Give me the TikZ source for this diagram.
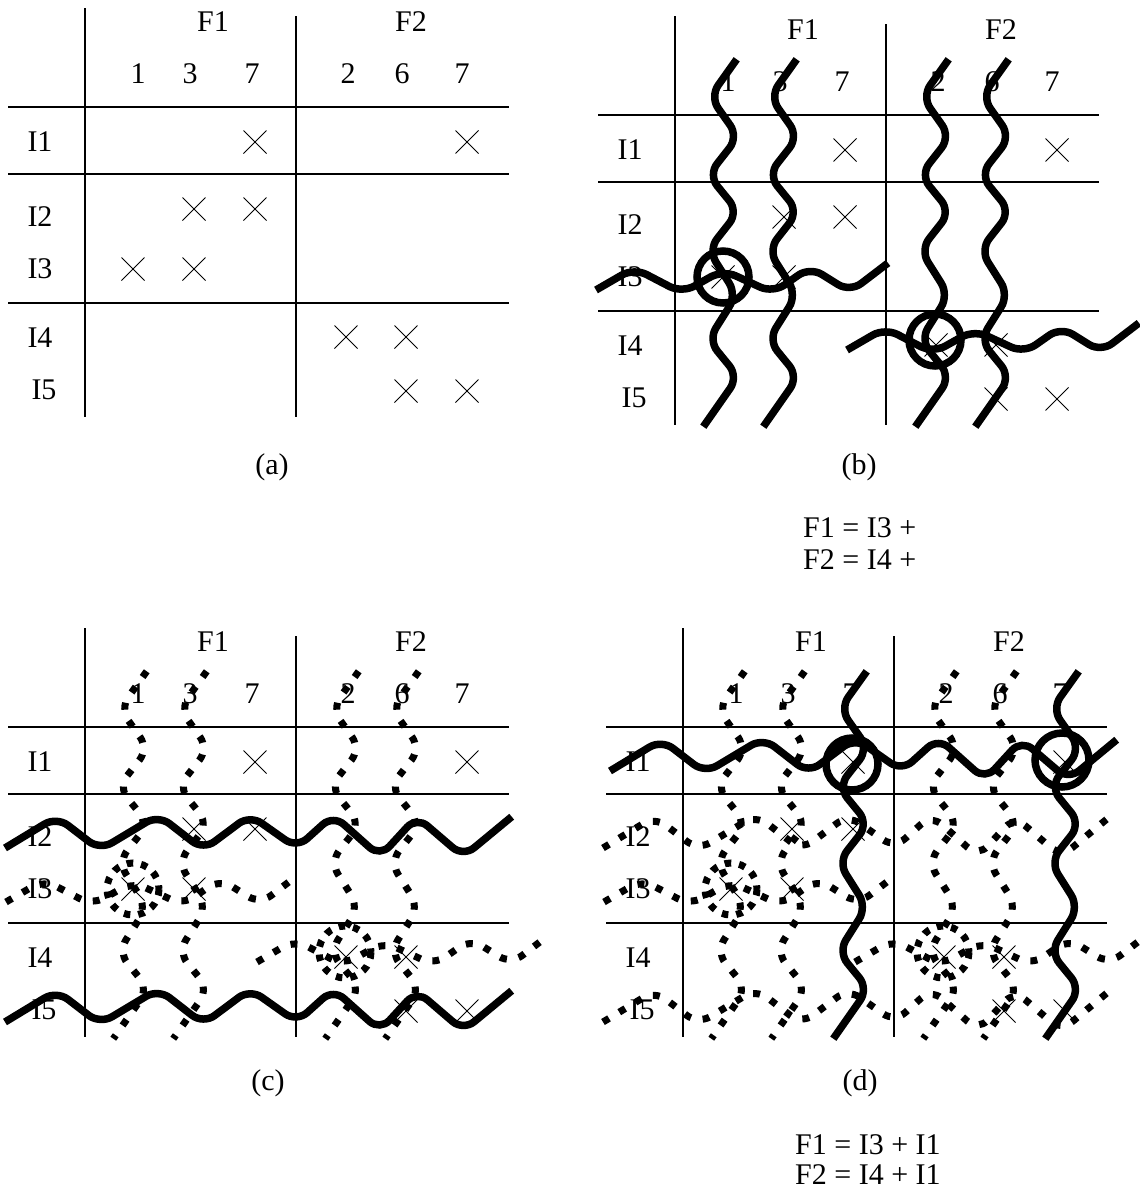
\documentclass[tikz,border=0pt]{standalone}
\usepackage{fontspec}
\setmainfont{Liberation Serif}
\tikzset{
  gridline/.style={line width=1.3pt},
  xmk/.style={line width=0.9pt},
  wave/.style={line width=7.5pt, rounded corners=14pt},
  dwave/.style={line width=7pt, rounded corners=14pt, dash pattern=on 7pt off 12pt},
  ring/.style={line width=7.5pt},
  dring/.style={line width=7pt, dash pattern=on 6.5pt off 8pt},
  lbl/.style={font=\fontsize{30}{36}\selectfont, inner sep=0pt},
}
\newcommand\xm[2]{\draw[xmk, shift={(#1,#2)}] (-11.5,-11.5) -- (11.5,11.5) (-11.5,11.5) -- (11.5,-11.5);}
\newcommand\panelgrid[3]{%
\begin{scope}[shift={(#2,#3)}, name prefix=#1-]
  \draw[gridline] (85,8) -- (85,417);
  \draw[gridline] (296,16) -- (296,417);
  \draw[gridline] (8,107) -- (509,107);
  \draw[gridline] (8,174) -- (509,174);
  \draw[gridline] (8,303) -- (509,303);
  \node[lbl] (f1) at (213,22) {F1};
  \node[lbl] (f2) at (411,22) {F2};
  \node[lbl] (c1) at (138,74) {1};
  \node[lbl] (c3) at (190,74) {3};
  \node[lbl] (c7) at (252,74) {7};
  \node[lbl] (c2) at (348,74) {2};
  \node[lbl] (c6) at (402,74) {6};
  \node[lbl] (c7b) at (462,74) {7};
  \node[lbl] (r1) at (40,142) {I1};
  \node[lbl] (r2) at (40,217) {I2};
  \node[lbl] (r3) at (40,269) {I3};
  \node[lbl] (r4) at (40,338) {I4};
  \node[lbl] (r5) at (44,390) {I5};
  \xm{255}{142}\xm{467}{142}
  \xm{194}{209}\xm{255}{209}
  \xm{133}{269}\xm{194}{269}
  \xm{346}{337}\xm{406}{337}
  \xm{406}{391}\xm{467}{391}
\end{scope}}
\newcommand\Vw[1]{\draw[#1] (736.7,59.3) -- (710,96.7) -- (738.3,136.7) -- (708.3,175) -- (738.3,211.7) -- (708.3,250) -- (736.7,295) -- (708.3,340) -- (738.3,376.7) -- (703.3,426.7);}
\newcommand\Hw[1]{\draw[#1] (596,290) -- (634,268) -- (682,293) -- (723,270) -- (773,293) -- (810,267) -- (850,292) -- (888,263);}
\newcommand\Hbig[1]{\draw[#1] (5,848) -- (56.7,816.7) -- (100,850) -- (158.3,815) -- (203.3,850) -- (250,815) -- (296.7,848) -- (333.3,815) -- (380,856.7) -- (416.7,816.7) -- (463.3,856.7) -- (511.7,816.7);}
\newcommand\setB[2]{%
  \Vw{#1}\Vw{#1,shift={(60,0)}}\Vw{#1,shift={(212,0)}}\Vw{#1,shift={(272,0)}}
  \Hw{#1}\Hw{#1,shift={(251,60)}}
  \draw[#2] (723,277) circle[radius=26];
  \draw[#2] (935,340) circle[radius=26];}
\begin{document}
\begin{tikzpicture}[x=1pt,y=-1pt]
\useasboundingbox (0,0) rectangle (1140,1192);
% panel (a)
\panelgrid{a}{0}{0}
\node[lbl] (capa) at (272,467) {(a)};
% panel (b)
\panelgrid{b}{590}{8}
\setB{wave}{ring}
\node[lbl] (capb) at (859,467) {(b)};
\node[lbl, anchor=west] (fb1) at (803,528) {F1 = I3 +};
\node[lbl, anchor=west] (fb2) at (803,560) {F2 = I4 +};
% panel (c)
\panelgrid{c}{0}{620}
\begin{scope}[shift={(-590,612)}]
  \setB{dwave}{dring}
\end{scope}
\Hbig{wave}
\Hbig{wave,shift={(0,174)}}
\node[lbl] (capc) at (268,1083) {(c)};
% panel (d)
\panelgrid{d}{598}{620}
\begin{scope}[shift={(8,612)}]
  \setB{dwave}{dring}
\end{scope}
\Hbig{dwave,shift={(598,0)}}
\Hbig{dwave,shift={(598,174)}}
\Hbig{wave,shift={(605,-77)}}
\Vw{wave,shift={(130,612)}}
\Vw{wave,shift={(342,612)}}
\draw[ring] (852,764) circle[radius=26];
\draw[ring] (1062,760) circle[radius=27];
\node[lbl] (capd) at (860,1083) {(d)};
\node[lbl, anchor=west] (fd1) at (795,1145) {F1 = I3 + I1};
\node[lbl, anchor=west] (fd2) at (795,1175) {F2 = I4 + I1};
\end{tikzpicture}
\end{document}
